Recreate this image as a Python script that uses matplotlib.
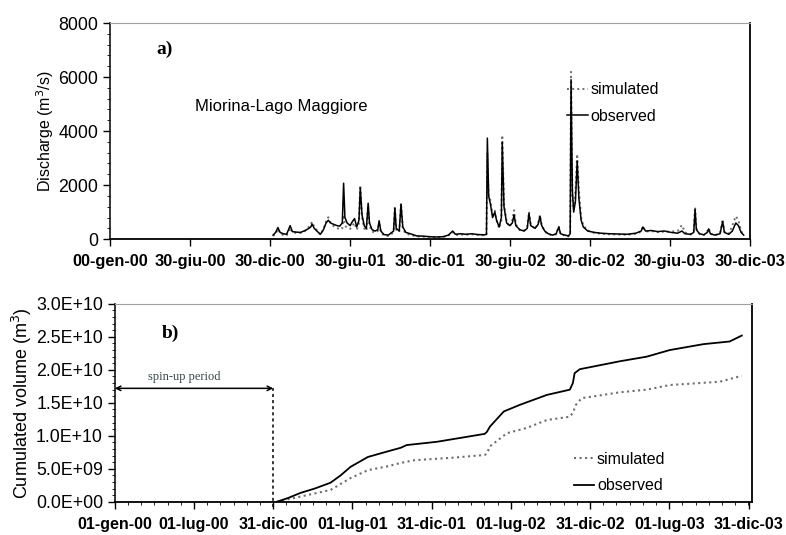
import numpy as np
import matplotlib
matplotlib.use('Agg')
import matplotlib.pyplot as plt
import matplotlib.ticker as plticker

plt.rcParams['font.family'] = ['Liberation Sans', 'DejaVu Sans']

# panel a: daily discharge (m3/s), days counted from 00-gen-00
q_days = [372, 378, 383, 388, 395, 403, 411, 416, 425, 435, 445, 452, 458, 461, 466, 472, 480, 487,
          493, 498, 503, 510, 518, 524, 530, 533, 536, 541, 548, 553, 558, 563, 568, 571, 575, 580,
          585, 589, 592, 598, 605, 611, 614, 618, 625, 635, 643, 647, 650, 653, 660, 664, 668, 675,
          685, 700, 715, 730, 745, 760, 772, 782, 788, 800, 812, 825, 840, 855, 859, 861, 864, 868,
          873, 878, 882, 888, 893, 895, 899, 905, 912, 918, 922, 926, 935, 945, 952, 956, 960, 970,
          977, 981, 985, 992, 1000, 1010, 1018, 1024, 1028, 1038, 1046, 1050, 1052, 1055, 1058, 1062,
          1066, 1070, 1075, 1080, 1090, 1105, 1120, 1140, 1160, 1180, 1200, 1212, 1216, 1222, 1235,
          1250, 1265, 1280, 1295, 1305, 1312, 1325, 1332, 1335, 1338, 1345, 1355, 1363, 1366, 1370,
          1380, 1392, 1398, 1402, 1412, 1420, 1428, 1434, 1440, 1446]
q_obs = [150, 250, 430, 250, 200, 180, 500, 280, 260, 250, 320, 380, 450, 560, 400, 300, 180, 350,
         600, 700, 600, 550, 500, 480, 600, 2070, 800, 600, 500, 650, 760, 450, 700, 1900, 900, 500,
         400, 1330, 600, 350, 300, 350, 680, 300, 170, 150, 250, 300, 1150, 400, 300, 1300, 450, 250,
         200, 120, 110, 90, 80, 90, 150, 300, 180, 200, 180, 200, 170, 160, 180, 3740, 1600, 1300,
         800, 1000, 700, 450, 800, 3600, 1200, 600, 500, 600, 900, 500, 350, 300, 400, 950, 500, 400,
         550, 850, 500, 300, 200, 150, 200, 450, 200, 150, 120, 200, 5900, 1800, 1000, 1400,
         2900, 1500, 700, 450, 300, 250, 220, 200, 190, 180, 220, 300, 450, 300, 320,
         280, 300, 250, 220, 300, 200, 180, 250, 1100, 350, 200, 160, 250, 380, 200,
         150, 200, 650, 250, 180, 300, 600, 500, 250, 150]
q_sim = [120, 200, 380, 220, 150, 140, 420, 250, 230, 230, 300, 420, 560, 640, 450, 330, 160, 380,
         650, 810, 620, 480, 420, 350, 400, 900, 500, 420, 380, 500, 600, 350, 600, 2000, 800, 400,
         300, 1250, 500, 280, 250, 300, 600, 250, 140, 120, 200, 280, 1220, 350, 260, 1330, 380, 200,
         160, 100, 90, 80, 70, 80, 130, 260, 150, 170, 160, 180, 150, 140, 150, 3200, 1500, 1450,
         900, 1050, 700, 400, 700, 3850, 1300, 650, 450, 700, 1070, 550, 330, 320, 450, 1010, 550, 380,
         600, 890, 520, 280, 180, 140, 180, 480, 180, 130, 100, 180, 6190, 1600, 1100, 1800,
         3150, 1800, 800, 500, 320, 230, 200, 180, 170, 160, 200, 280, 480, 280, 300,
         260, 280, 280, 300, 520, 250, 170, 300, 1200, 400, 200, 150, 300, 410, 200,
         140, 220, 740, 260, 200, 500, 850, 700, 300, 150]

# panel b: cumulated volume (m3), days counted from 01-gen-00
v_obs_days = [373, 400, 428, 460, 497, 520, 543, 583, 626, 659, 672, 742, 852, 857, 864, 896, 933,
              995, 1048, 1055, 1059, 1071, 1163, 1225, 1278, 1356, 1416, 1444]
v_obs = [0.0, 0.06, 0.136, 0.20, 0.29, 0.40, 0.53, 0.68, 0.76, 0.82, 0.86, 0.91, 1.03, 1.06, 1.14,
         1.37, 1.47, 1.62, 1.70, 1.80, 1.95, 2.01, 2.13, 2.20, 2.30, 2.39, 2.43, 2.52]
v_sim_days = [373, 428, 497, 543, 583, 626, 659, 689, 781, 852, 857, 864, 903, 949, 995, 1048, 1055,
              1062, 1075, 1163, 1225, 1278, 1393, 1444]
v_sim = [0.0, 0.08, 0.18, 0.36, 0.48, 0.535, 0.59, 0.63, 0.67, 0.71, 0.73, 0.84, 1.04, 1.12, 1.24,
         1.29, 1.35, 1.47, 1.57, 1.66, 1.70, 1.77, 1.82, 1.91]

a_ticks = [0, 182.5, 365, 547.5, 730, 912.5, 1095, 1277.5, 1460]
a_labels = ['00-gen-00', '30-giu-00', '30-dic-00', '30-giu-01', '30-dic-01',
            '30-giu-02', '30-dic-02', '30-giu-03', '30-dic-03']
b_ticks = [0, 182, 365, 547, 730, 912, 1095, 1277, 1460]
b_labels = ['01-gen-00', '01-lug-00', '31-dic-00', '01-lug-01', '31-dic-01',
            '01-lug-02', '31-dic-02', '01-lug-03', '31-dic-03']

obs_c = 'black'
sim_c = '#6e6e6e'

fig = plt.figure(figsize=(7.86, 5.35), dpi=100)
ax1 = fig.add_axes([0.140, 0.553, 0.814, 0.404])
ax2 = fig.add_axes([0.146, 0.062, 0.811, 0.370])

# ---- panel a
ax1.plot(q_days, q_sim, color=sim_c, ls=':', lw=1.4, label='simulated')
ax1.plot(q_days, q_obs, color=obs_c, ls='-', lw=1.1, label='observed')
ax1.set_xlim(0, 1460)
ax1.set_ylim(0, 8000)
ax1.set_xticks(a_ticks)
ax1.set_xticklabels(a_labels, fontweight='bold')
ax1.set_yticks([0, 2000, 4000, 6000, 8000])
ax1.yaxis.set_minor_locator(plticker.MultipleLocator(400))
ax1.tick_params(axis='x', labelsize=11.8, length=5, width=1, pad=6)
ax1.tick_params(axis='y', labelsize=12.8, length=5, width=1)
ax1.tick_params(axis='y', which='minor', length=2.5)
ax1.set_ylabel('Discharge (m$^3$/s)', fontsize=11.5, labelpad=2)
ax1.text(0.073, 0.855, 'a)', transform=ax1.transAxes, fontsize=14, fontweight='bold',
         family='Liberation Serif')
ax1.text(0.133, 0.593, 'Miorina-Lago Maggiore', transform=ax1.transAxes, fontsize=12)
ax1.legend(loc='upper left', bbox_to_anchor=(0.705, 0.755), frameon=False, fontsize=11.5,
           handlelength=1.3, handletextpad=0.15, labelspacing=0.72, borderaxespad=0)

# ---- panel b
ax2.plot(v_sim_days, np.array(v_sim) * 1e10, color=sim_c, ls=':', lw=1.5, label='simulated')
ax2.plot(v_obs_days, np.array(v_obs) * 1e10, color=obs_c, ls='-', lw=1.3, label='observed')
ax2.set_xlim(0, 1468)
ax2.set_ylim(0, 3e10)
ax2.set_xticks(b_ticks)
ax2.set_xticklabels(b_labels, fontweight='bold')
ax2.xaxis.set_minor_locator(plticker.MultipleLocator(30.4))
ax2.set_yticks(np.arange(0, 3.01e10, 0.5e10))
ax2.yaxis.set_minor_locator(plticker.MultipleLocator(1e9))
ax2.yaxis.set_major_formatter(plticker.FuncFormatter(lambda v, p: '%.1E' % v))
ax2.tick_params(axis='x', labelsize=11.5, length=5, width=1, pad=6)
ax2.tick_params(axis='y', labelsize=12.8, length=5, width=1)
ax2.tick_params(which='minor', length=2.5)
ax2.set_ylabel('Cumulated volume (m$^3$)', fontsize=13, labelpad=1)
ax2.text(0.074, 0.828, 'b)', transform=ax2.transAxes, fontsize=14, fontweight='bold',
         family='Liberation Serif')

ax2.plot([365, 365], [-0.08e10, 1.72e10], color='black', ls=(0, (2, 2)), lw=1.1, clip_on=False)
ax2.annotate('', xy=(0, 1.72e10), xytext=(365, 1.72e10),
             arrowprops=dict(arrowstyle='<->', color='black', lw=1.1,
                             shrinkA=0, shrinkB=0, mutation_scale=8))
ax2.text(160, 1.80e10, 'spin-up period', ha='center', va='bottom', fontsize=9,
         family='Liberation Serif', color='#3a4a4a')
ax2.legend(loc='upper left', bbox_to_anchor=(0.71, 0.285), frameon=False, fontsize=11.5,
           handlelength=1.3, handletextpad=0.15, labelspacing=0.72, borderaxespad=0)

for ax in (ax1, ax2):
    ax.spines['top'].set_color('#a0a0a0')
    ax.spines['top'].set_linestyle((0, (1, 1)))
    ax.spines['left'].set_linewidth(1.1)
    ax.spines['bottom'].set_linewidth(1.3)
    ax.spines['right'].set_linewidth(1.3)

plt.savefig('out.png', dpi=100)
